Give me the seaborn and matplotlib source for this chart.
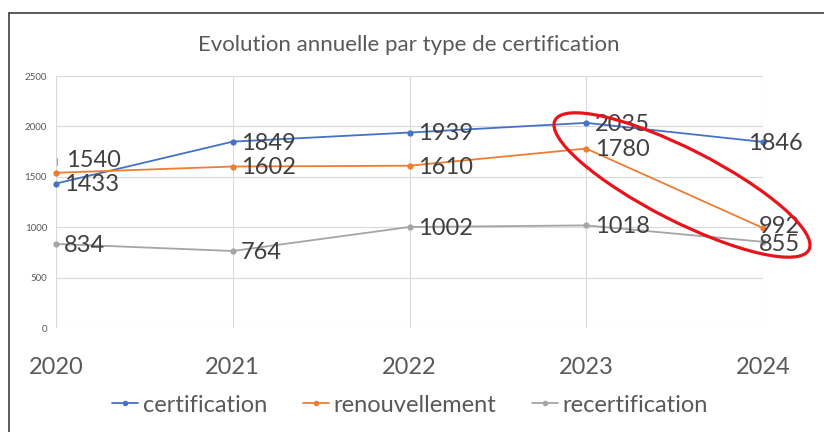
import matplotlib
matplotlib.use("Agg")
import matplotlib.pyplot as plt
from matplotlib.patches import Ellipse
from matplotlib.lines import Line2D
from matplotlib.transforms import IdentityTransform
import pandas as pd
import seaborn as sns

# données
years = [2020, 2021, 2022, 2023, 2024]
certification = [1433, 1849, 1939, 2035, 1846]
renouvellement = [1540, 1602, 1610, 1780, 992]
recertification = [834, 764, 1002, 1018, 855]
series_names = ["certification", "renouvellement", "recertification"]
colors = ["#4472C4", "#ED7D31", "#A5A5A5"]
y_ticks = [0, 500, 1000, 1500, 2000, 2500]

df = pd.DataFrame({
    "annee": years * 3,
    "valeur": certification + renouvellement + recertification,
    "type": [n for n in series_names for _ in years],
})

sns.set_theme(style="white")
plt.rcParams["font.family"] = ["Lato", "DejaVu Sans"]

W, H = 824, 432
fig = plt.figure(figsize=(W / 100, H / 100), dpi=100)
ax = fig.add_axes([56 / W, 104 / H, 707 / W, 252 / H])

sns.lineplot(data=df, x="annee", y="valeur", hue="type", palette=colors,
             marker="o", markersize=4.5, markeredgewidth=0, linewidth=1.3,
             ax=ax, legend=False, clip_on=False)

ax.set_xlim(2020, 2024)
ax.set_ylim(0, 2500)
ax.set_xticks(years)
ax.set_xticklabels([str(y) for y in years])
ax.set_yticks(y_ticks)
ax.set_xlabel("")
ax.set_ylabel("")
ax.grid(True, color="#D9D9D9", linewidth=0.8)
for s in ax.spines.values():
    s.set_visible(False)
ax.tick_params(axis="x", length=0, pad=21, labelsize=17, labelcolor="#595959")
ax.tick_params(axis="y", length=0, pad=6.5, labelsize=7, labelcolor="#595959")

# étiquettes de données (décalages comme sur l'original)
offsets = {1540: (7, 9), 1846: (-11, -1), 992: (-3, 1), 855: (-3, -2)}
for vals in [certification, renouvellement, recertification]:
    for x, v in zip(years, vals):
        ax.annotate(str(v), (x, v), xytext=offsets.get(v, (6, -1)),
                    textcoords="offset points", fontsize=17, color="#404040",
                    va="center", ha="left", annotation_clip=False)

# petit trait de rappel pour 1540
ax.annotate("", (2020.008, renouvellement[0] + 45),
            xytext=(2020.008, renouvellement[0] + 170),
            arrowprops=dict(arrowstyle="-", color="#A6A6A6", lw=0.8),
            annotation_clip=False)

fig.text(409 / W, 1 - 45 / H, "Evolution annuelle par type de certification",
         ha="center", va="center", fontsize=16, color="#595959")

handles = [Line2D([0], [0], color=c, lw=1.3, marker="o", markersize=4, markeredgewidth=0)
           for c in colors]
fig.legend(handles, series_names, loc="center", bbox_to_anchor=(410 / W, 1 - 405 / H),
           ncol=3, frameon=False, fontsize=17, handlelength=1.1, handletextpad=0.2,
           columnspacing=1.5, labelcolor="#595959")

# cadre de la capture
fig.add_artist(Line2D([9 / W, 1], [1 - 13 / H, 1 - 13 / H], transform=fig.transFigure,
                      color="#404040", lw=1.2))
fig.add_artist(Line2D([9 / W, 9 / W], [0, 1 - 13 / H], transform=fig.transFigure,
                      color="#404040", lw=1.2))

# ellipse rouge de mise en évidence
fig.add_artist(Ellipse((682, H - 185), width=285, height=72, angle=-27,
                       transform=IdentityTransform(), fill=False,
                       edgecolor="#E8141B", lw=2.3))

fig.savefig("out.png", dpi=100)
